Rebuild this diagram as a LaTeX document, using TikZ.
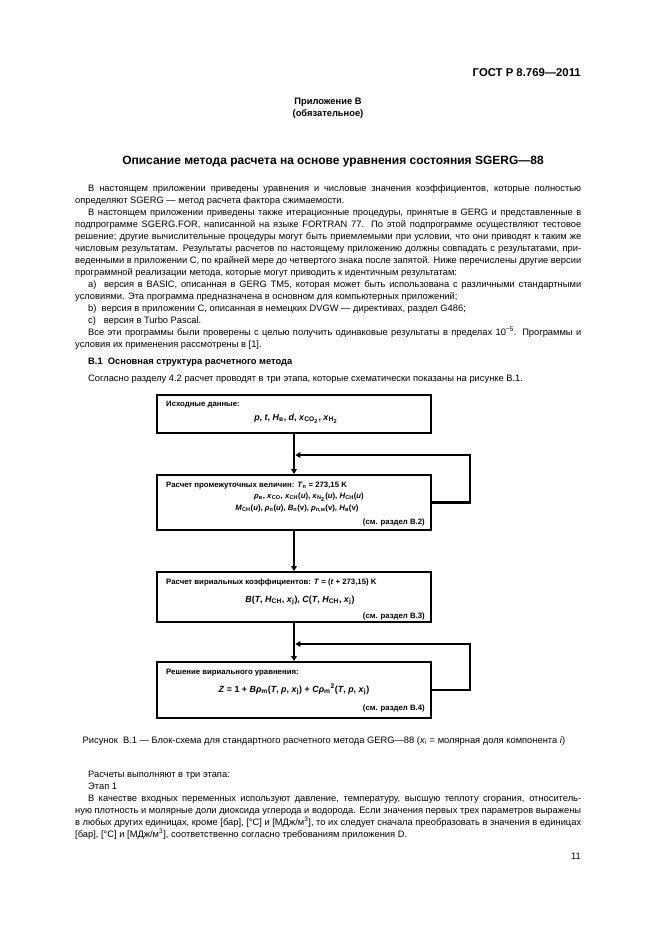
\documentclass[tikz,border=0pt]{standalone}
\usepackage{fontspec}
\setmainfont{Liberation Sans}
\usetikzlibrary{arrows.meta}
\newcommand{\vv}[1]{\textit{#1}}
\newcommand{\vsub}[2]{\textit{#1}\textsubscript{#2}}
\newcommand{\bodyfont}{\fontsize{8.4}{10.8}\selectfont\spaceskip=0.278em plus 0.7em minus 0.15em\relax}
\newcommand{\ind}{\hspace*{11.7pt}}
\hyphenpenalty=10000
\exhyphenpenalty=10000

\begin{document}
\begin{tikzpicture}[x=0.9pt,y=-0.9pt,
	txt/.style={inner sep=0pt,anchor=base west,font=\bodyfont},
	para/.style={txt,text width=455.4pt,align=justify},
	blk/.style={draw,line width=1.7pt,minimum width=246.6pt,inner sep=0pt},
	bx/.style={inner sep=0pt,font=\fontsize{7}{8.4}\selectfont\bfseries},
	fx/.style={bx,anchor=base,font=\fontsize{8}{9.6}\selectfont\bfseries},
	flow/.style={line width=2.4pt,-{Triangle[length=4.5pt,width=5pt]}}]
	\useasboundingbox (0,0) rectangle (661,936);
	\fill[white] (0,0) rectangle (661,936);

	\node[anchor=base east,inner sep=0pt,font=\fontsize{10.2}{12}\selectfont\bfseries] (hdr) at (581,76) {ГОСТ Р 8.769—2011};
	\node[anchor=base,inner sep=0pt,font=\bodyfont\bfseries] (app) at (328,104) {Приложение В};
	\node[anchor=base,inner sep=0pt,font=\bodyfont\bfseries] (obl) at (328,116) {(обязательное)};
	\node[anchor=base,inner sep=0pt,font=\fontsize{10.8}{13}\selectfont\bfseries] (ttl) at (333,164) {Описание метода расчета на основе уравнения состояния SGERG—88};

	\node[para] (p1) at (75,191) {\ind В настоящем приложении приведены уравнения и числовые значения коэффициентов, которые полностью\linebreak{} определяют SGERG — метод расчета фактора сжимаемости.\par
	\ind В настоящем приложении приведены также итерационные процедуры, принятые в GERG и представленные в\linebreak{} подпрограмме SGERG.FOR, написанной на языке FORTRAN 77. По этой подпрограмме осуществляют тестовое\linebreak{} решение; другие вычислительные процедуры могут быть приемлемыми при условии, что они приводят к таким же\linebreak{} числовым результатам. Результаты расчетов по настоящему приложению должны совпадать с результатами, при-\linebreak{}веденными в приложении С, по крайней мере до четвертого знака после запятой. Ниже перечислены другие версии\linebreak{} программной реализации метода, которые могут приводить к идентичным результатам:\par
	\ind а)~~версия в BASIC, описанная в GERG TM5, которая может быть использована с различными стандартными\linebreak{} условиями. Эта программа предназначена в основном для компьютерных приложений;\par
	\ind b)~~версия в приложении С, описанная в немецких DVGW — директивах, раздел G486;\par
	\ind c)~~~версия в Turbo Pascal.\par
	\ind Все эти программы были проверены с целью получить одинаковые результаты в пределах 10\textsuperscript{−5}. Программы и\linebreak{} условия их применения рассмотрены в [1].};

	\node[txt,font=\bodyfont\bfseries] (h1) at (88,364) {В.1~~Основная структура расчетного метода};
	\node[txt] (p2) at (88,381) {Согласно разделу 4.2 расчет проводят в три этапа, которые схематически показаны на рисунке В.1.};

	\node[blk,minimum height=34.2pt] (b1) at (294,414) {};
	\node[blk,minimum height=49.5pt] (b2) at (294,502.5) {};
	\node[blk,minimum height=45pt] (b3) at (294,597) {};
	\node[blk,minimum height=50.4pt] (b4) at (294,690) {};

	\node[bx,anchor=base west] (t1) at (166,406) {Исходные данные:};
	\node[fx] (f1) at (296,420) {\vv{p}, \vv{t}, \vsub{H}{в}, \vv{d}, \vsub{x}{CO\textsubscript{2}}, \vsub{x}{H\textsubscript{2}}};

	\node[bx,anchor=base west] (t2) at (166,487) {Расчет промежуточных величин: \vsub{T}{п} = 273,15 K};
	\node[bx,anchor=base] (f2) at (309,498) {\vsub{ρ}{в}, \vsub{x}{CO}, \vsub{x}{CH}(\vv{u}), \vsub{x}{N\textsubscript{2}}(\vv{u}), \vsub{H}{CH}(\vv{u})};
	\node[bx,anchor=base] (g2) at (297,510) {\vsub{M}{CH}(\vv{u}), \vsub{ρ}{п}(\vv{u}), \vsub{B}{п}(v), \vsub{ρ}{п,м}(v), \vsub{H}{в}(v)};
	\node[bx,anchor=base east] (s2) at (425,524) {(см. раздел В.2)};

	\node[bx,anchor=base west] (t3) at (166,584) {Расчет вириальных коэффициентов: \vv{T} = (\vv{t} + 273,15) K};
	\node[fx] (f3) at (300,602) {\vv{B}(\vv{T}, \vsub{H}{CH}, \vsub{x}{j}), \vv{C}(\vv{T}, \vsub{H}{CH}, \vsub{x}{j})};
	\node[bx,anchor=base east] (s3) at (425,618) {(см. раздел В.3)};

	\node[bx,anchor=base west] (t4) at (166,674) {Решение вириального уравнения:};
	\node[fx] (f4) at (294,692) {\vv{Z} = 1 + \vv{B}\vsub{ρ}{m}(\vv{T}, \vv{p}, \vsub{x}{j}) + \vv{C}\vsub{ρ}{m}\textsuperscript{2}(\vv{T}, \vv{p}, \vsub{x}{j})};
	\node[bx,anchor=base east] (s4) at (425,710) {(см. раздел В.4)};

	\coordinate (j1) at (294,455);
	\coordinate (r1) at (470,455);
	\coordinate (j2) at (294,644);
	\coordinate (r2) at (470,644);

	\draw[flow] (b1.south) -- (b2.north);
	\draw[flow,shorten >=1.2pt] (b2.east) -| (r1) -- (j1);
	\draw[flow] (b2.south) -- (b3.north);
	\draw[flow] (b3.south) -- (b4.north);
	\draw[flow,shorten >=1.2pt] (b4.east) -| (r2) -- (j2);

	\node[anchor=base,inner sep=0pt,font=\bodyfont] (cap) at (324,743) {Рисунок~~В.1 — Блок-схема для стандартного расчетного метода GERG—88 (\vsub{x}{\textit{i}} = молярная доля компонента \vv{i})};

	\node[para] (p3) at (75,777) {\ind Расчеты выполняют в три этапа:\par
	\ind Этап 1\par
	\ind В качестве входных переменных используют давление, температуру, высшую теплоту сгорания, относитель-\linebreak{}ную плотность и молярные доли диоксида углерода и водорода. Если значения первых трех параметров выражены\linebreak{} в любых других единицах, кроме [бар], [°С] и [МДж/м\textsuperscript{3}], то их следует сначала преобразовать в значения в единицах\linebreak{} [бар], [°С] и [МДж/м\textsuperscript{3}], соответственно согласно требованиям приложения D.};

	\node[anchor=base east,inner sep=0pt,font=\bodyfont] (pg) at (581,859) {11};
\end{tikzpicture}
\end{document}
